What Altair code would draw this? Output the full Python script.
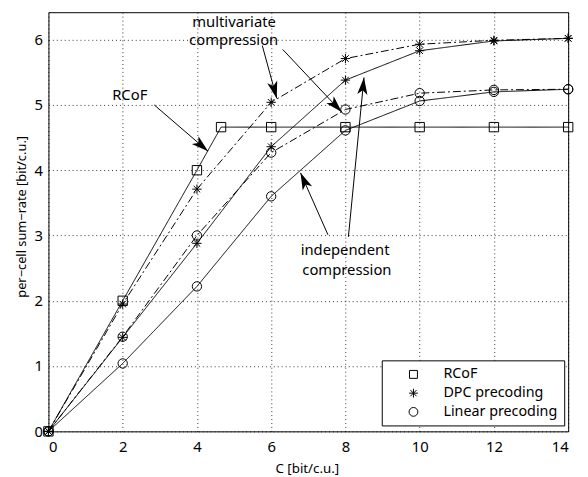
import math
import altair as alt
import pandas as pd

# ---------------- data ----------------
C = [0, 2, 4, 6, 8, 10, 12, 14]
RCOF_C = [0, 2, 4, 4.65, 6, 8, 10, 12, 14]
RCOF_RATE = [0, 2.0, 4.0, 4.66, 4.66, 4.66, 4.66, 4.66, 4.66]
DPC_INDEP = [0, 1.44, 2.88, 4.36, 5.38, 5.83, 5.98, 6.02]
DPC_MULTI = [0, 1.95, 3.71, 5.04, 5.71, 5.93, 5.99, 6.02]
LIN_INDEP = [0, 1.04, 2.22, 3.60, 4.61, 5.06, 5.20, 5.24]
LIN_MULTI = [0, 1.45, 3.00, 4.27, 4.93, 5.18, 5.23, 5.24]
SCHEMES = ["RCoF", "DPC precoding", "Linear precoding"]

ANNOT_TEXT = ["RCoF", "multivariate", "compression", "independent", "compression"]
ANNOT_X = [2.19, 5.00, 4.99, 7.99, 8.04]
ANNOT_Y = [5.15, 6.27, 5.99, 2.77, 2.47]

ARROW_X0 = [2.85, 5.76, 6.31, 7.53, 8.08]
ARROW_Y0 = [5.00, 5.91, 5.85, 3.01, 2.98]
ARROW_X1 = [4.30, 6.15, 7.90, 6.79, 8.50]
ARROW_Y1 = [4.29, 5.10, 4.89, 3.96, 5.42]

X_TICKS = [0, 2, 4, 6, 8, 10, 12, 14]
Y_TICKS = [0, 1, 2, 3, 4, 5, 6]

# ---------------- layout ----------------
W, H = 527, 425
XMAX, YMAX = 14, 6.42
FONT = "Noto Sans"
AST = "M0,-1L0,1M-1,0L1,0M-0.7,-0.7L0.7,0.7M-0.7,0.7L0.7,-0.7"
HEAD = "M0,0L0.6,2L0,1.5L-0.6,2Z"
# legend-only symbols, drawn shifted to the right inside the legend box
LEG_SQ = "M3.1,-0.9L4.9,-0.9L4.9,0.9L3.1,0.9Z"
LEG_AST = "M4,-1L4,1M3,0L5,0M3.3,-0.7L4.7,0.7M3.3,0.7L4.7,-0.7"
LEG_CI = "M5,0A1,1,0,1,1,3,0A1,1,0,1,1,5,0Z"

rows = []
def add(series, scheme, style, xs, ys):
    for x, y in zip(xs, ys):
        rows.append(dict(series=series, scheme=scheme, style=style, c=x, rate=y))

add("rcof", "RCoF", "solid", RCOF_C, RCOF_RATE)
add("dpc_ind", "DPC precoding", "solid", C, DPC_INDEP)
add("dpc_multi", "DPC precoding", "dashdot", C, DPC_MULTI)
add("lin_ind", "Linear precoding", "solid", C, LIN_INDEP)
add("lin_multi", "Linear precoding", "dashdot", C, LIN_MULTI)
df = pd.DataFrame(rows)

sx, sy = W / XMAX, H / YMAX
angles = []
for x0, y0, x1, y1 in zip(ARROW_X0, ARROW_Y0, ARROW_X1, ARROW_Y1):
    dx = (x1 - x0) * sx
    dy = -(y1 - y0) * sy
    angles.append(math.degrees(math.atan2(dx, -dy)) % 360)
arrows = pd.DataFrame(dict(x0=ARROW_X0, y0=ARROW_Y0, x1=ARROW_X1, y1=ARROW_Y1, angle=angles))
annots = pd.DataFrame(dict(t=ANNOT_TEXT, x=ANNOT_X, y=ANNOT_Y))

xscale = alt.Scale(domain=[0, XMAX], nice=False, zero=False)
yscale = alt.Scale(domain=[0, YMAX], nice=False, zero=False)
xaxis = alt.Axis(title="C [bit/c.u.]", values=X_TICKS, labelPadding=8,
                 titleX=262, titleY=38, titleBaseline="middle", titleAlign="center",
                 titleFontSize=13.5)
yaxis = alt.Axis(title="per\u2212cell sum\u2212rate [bit/c.u.]", values=Y_TICKS, labelPadding=6,
                 titleX=-27, titleY=207, titleAngle=270, titleAlign="center",
                 titleBaseline="middle", titleFontSize=13)

def X(f):
    return alt.X(f, type="quantitative", scale=xscale, axis=xaxis)

def Y(f):
    return alt.Y(f, type="quantitative", scale=yscale, axis=yaxis)

lines = alt.Chart(df).mark_line(color="black", strokeWidth=1).encode(
    x=X("c"), y=Y("rate"), detail="series:N",
    strokeDash=alt.StrokeDash("style:N", scale=alt.Scale(domain=["solid", "dashdot"],
                              range=[[1, 0], [8, 3, 2, 3]]), legend=None),
)

points = alt.Chart(df).mark_point(filled=False, color="black", size=90, strokeWidth=1,
                                  opacity=1).encode(
    x=X("c"), y=Y("rate"),
    shape=alt.Shape("scheme:N", scale=alt.Scale(domain=SCHEMES, range=["square", AST, "circle"]),
                    legend=None),
)

legend_layer = alt.Chart(df).transform_filter("datum.c < -100").mark_point(
    filled=False, color="black", strokeWidth=1, opacity=1).encode(
    x=X("c"), y=Y("rate"),
    shape=alt.Shape("scheme:N", scale=alt.Scale(domain=SCHEMES, range=[LEG_SQ, LEG_AST, LEG_CI]),
                    legend=alt.Legend(title=None, orient="none", legendX=338, legendY=353,
                                      strokeColor="black", fillColor="white", padding=7,
                                      symbolOffset=0, labelOffset=41, labelFont=FONT,
                                      labelFontSize=14.5, labelColor="black", rowPadding=4,
                                      symbolSize=80, symbolStrokeWidth=1,
                                      symbolStrokeColor="black", symbolFillColor="transparent")),
)

shafts = alt.Chart(arrows).mark_rule(color="black", strokeWidth=1).encode(
    x=X("x0"), y=Y("y0"), x2="x1", y2="y1")
heads = alt.Chart(arrows).mark_point(shape=HEAD, filled=True, color="black", size=300,
                                     opacity=1).encode(
    x=X("x1"), y=Y("y1"), angle=alt.Angle("angle:Q", scale=None))
texts = alt.Chart(annots).mark_text(font=FONT, fontSize=15, align="center", baseline="middle",
                                    color="black").encode(x=X("x"), y=Y("y"), text="t:N")

chart = alt.layer(lines, points, legend_layer, shafts, heads, texts).resolve_scale(
    shape="independent"
).properties(
    width=W, height=H, autosize="none",
    padding={"left": 41, "top": 1, "right": 12, "bottom": 43},
).configure_view(stroke="black", strokeWidth=1).configure_axis(
    grid=True, gridDash=[1, 3], gridColor="black", gridOpacity=0.8, gridWidth=1,
    domain=False, ticks=False, labelFont=FONT, labelFontSize=15, labelColor="black",
    titleFont=FONT, titleFontSize=15, titleColor="black", titleFontWeight="normal",
)

chart.save("out.html", embed_options={"renderer": "svg", "actions": False})
